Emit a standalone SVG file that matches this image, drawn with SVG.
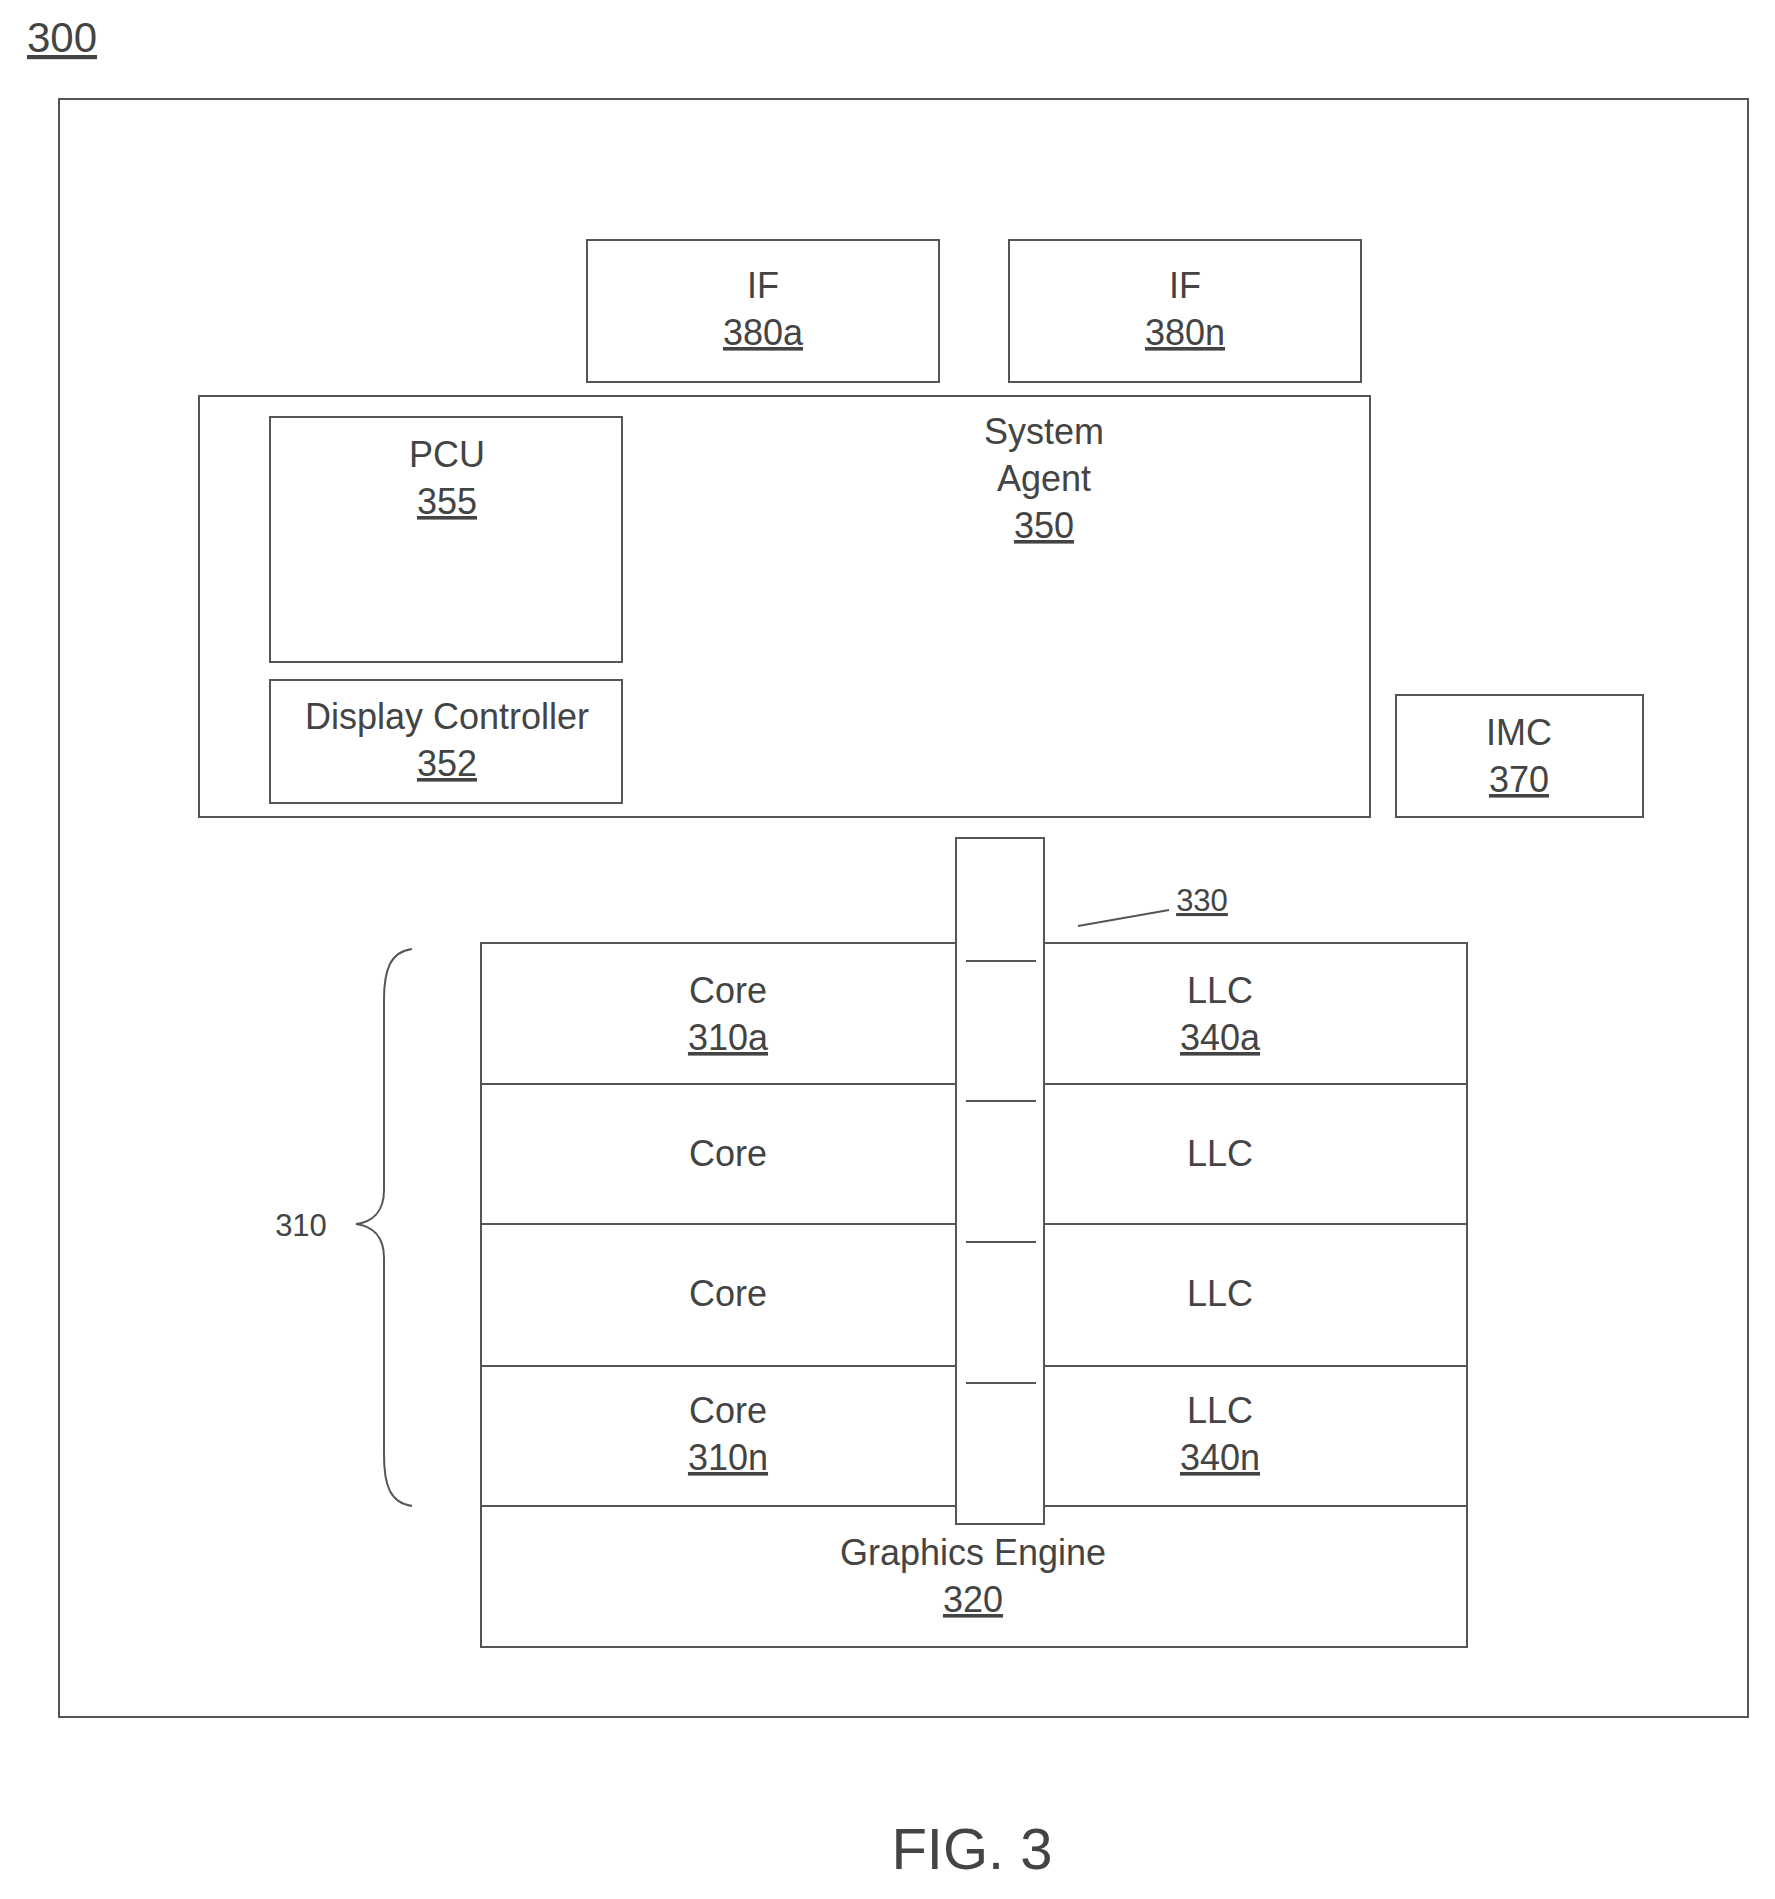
<svg xmlns="http://www.w3.org/2000/svg" width="1775" height="1899" viewBox="0 0 1775 1899">
<style>
rect{fill:none;stroke:#555;stroke-width:2}
line,path{stroke:#555;stroke-width:2;fill:none}
text{font-family:"Liberation Sans",Arial,sans-serif;font-size:36px;fill:#444;text-anchor:middle}
.u{text-decoration:underline}
.s{font-size:31px}
</style>
<rect width="1775" height="1899" style="fill:#fff;stroke:none"/>
<text x="62" y="52" class="u" style="font-size:42px">300</text>
<rect id="outer" x="59" y="99" width="1689" height="1618"/>
<g id="if380a"><rect x="587" y="240" width="352" height="142"/><text x="763" y="298">IF</text><text x="763" y="345" class="u">380a</text></g>
<g id="if380n"><rect x="1009" y="240" width="352" height="142"/><text x="1185" y="298">IF</text><text x="1185" y="345" class="u">380n</text></g>
<g id="sa350"><rect x="199" y="396" width="1171" height="421"/><text x="1044" y="444">System</text><text x="1044" y="491">Agent</text><text x="1044" y="538" class="u">350</text></g>
<g id="pcu355"><rect x="270" y="417" width="352" height="245"/><text x="447" y="467">PCU</text><text x="447" y="514" class="u">355</text></g>
<g id="dc352"><rect x="270" y="680" width="352" height="123"/><text x="447" y="729">Display Controller</text><text x="447" y="776" class="u">352</text></g>
<g id="imc370"><rect x="1396" y="695" width="247" height="122"/><text x="1519" y="745">IMC</text><text x="1519" y="792" class="u">370</text></g>
<g id="grid">
<rect x="481" y="943" width="986" height="704"/>
<line x1="481" y1="1084" x2="1467" y2="1084"/><line x1="481" y1="1224" x2="1467" y2="1224"/><line x1="481" y1="1366" x2="1467" y2="1366"/><line x1="481" y1="1506" x2="1467" y2="1506"/>
<text x="728" y="1003">Core</text><text x="728" y="1050" class="u">310a</text>
<text x="1220" y="1003">LLC</text><text x="1220" y="1050" class="u">340a</text>
<text x="728" y="1166">Core</text><text x="1220" y="1166">LLC</text>
<text x="728" y="1306">Core</text><text x="1220" y="1306">LLC</text>
<text x="728" y="1423">Core</text><text x="728" y="1470" class="u">310n</text>
<text x="1220" y="1423">LLC</text><text x="1220" y="1470" class="u">340n</text>
<text x="973" y="1565">Graphics Engine</text><text x="973" y="1612" class="u">320</text>
</g>
<g id="ring330">
<rect x="956" y="838" width="88" height="686" style="fill:#fff"/>
<line x1="966" y1="961" x2="1036" y2="961"/><line x1="966" y1="1101" x2="1036" y2="1101"/><line x1="966" y1="1242" x2="1036" y2="1242"/><line x1="966" y1="1383" x2="1036" y2="1383"/>
<text x="1202" y="911" class="s u">330</text>
</g>
<g id="connectors">
<line x1="1078" y1="926" x2="1169" y2="910"/>
<path d="M412,949 C390,952 384,970 384,1000 L384,1190 C384,1212 372,1222 356,1224 C372,1226 384,1236 384,1258 L384,1455 C384,1485 390,1503 412,1506"/>
</g>
<text x="301" y="1236" class="s">310</text>
<text x="972" y="1869" style="font-size:58px">FIG. 3</text>
</svg>
